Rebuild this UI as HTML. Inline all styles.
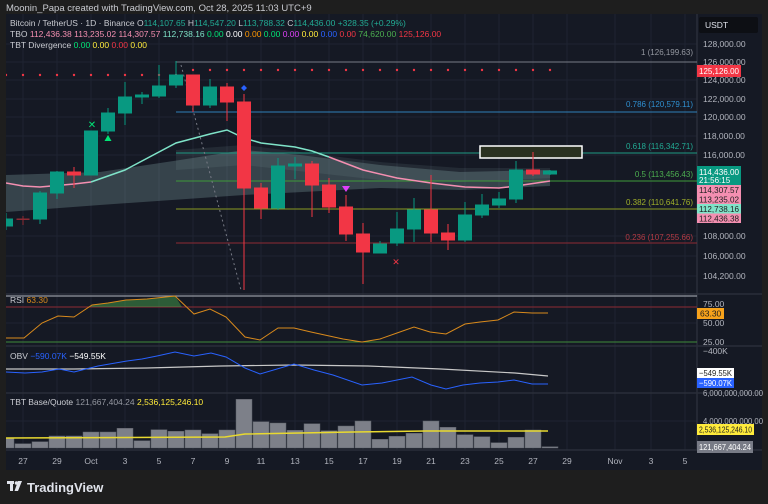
<!DOCTYPE html>
<html><head><meta charset="utf-8"><style>
html,body{margin:0;padding:0;background:#1e1e1e;width:768px;height:504px;overflow:hidden}
svg{display:block}
text{font-family:"Liberation Sans",sans-serif}
</style></head><body>
<svg width="768" height="504" viewBox="0 0 768 504" xmlns="http://www.w3.org/2000/svg">
<defs><clipPath id="pc"><rect x="6" y="14" width="691" height="436"/></clipPath></defs>
<rect width="768" height="504" fill="#1e1e1e"/>
<text x="6" y="11" font-size="9.5" fill="#c9cbd1">Moonin_Papa created with TradingView.com, Oct 28, 2025 11:03 UTC+9</text>
<rect x="6" y="14" width="756" height="456" fill="#151924"/>
<g stroke="#1f2432" stroke-width="1">
<line x1="23" y1="14" x2="23" y2="450"/><line x1="57" y1="14" x2="57" y2="450"/><line x1="91" y1="14" x2="91" y2="450"/><line x1="125" y1="14" x2="125" y2="450"/><line x1="159" y1="14" x2="159" y2="450"/><line x1="193" y1="14" x2="193" y2="450"/><line x1="227" y1="14" x2="227" y2="450"/><line x1="261" y1="14" x2="261" y2="450"/><line x1="295" y1="14" x2="295" y2="450"/><line x1="329" y1="14" x2="329" y2="450"/><line x1="363" y1="14" x2="363" y2="450"/><line x1="397" y1="14" x2="397" y2="450"/><line x1="431" y1="14" x2="431" y2="450"/><line x1="465" y1="14" x2="465" y2="450"/><line x1="499" y1="14" x2="499" y2="450"/><line x1="533" y1="14" x2="533" y2="450"/><line x1="567" y1="14" x2="567" y2="450"/><line x1="615" y1="14" x2="615" y2="450"/><line x1="651" y1="14" x2="651" y2="450"/><line x1="685" y1="14" x2="685" y2="450"/>
<line x1="6" y1="44" x2="697" y2="44"/><line x1="6" y1="62" x2="697" y2="62"/><line x1="6" y1="80" x2="697" y2="80"/><line x1="6" y1="99" x2="697" y2="99"/><line x1="6" y1="117" x2="697" y2="117"/><line x1="6" y1="136" x2="697" y2="136"/><line x1="6" y1="155" x2="697" y2="155"/><line x1="6" y1="236" x2="697" y2="236"/><line x1="6" y1="256" x2="697" y2="256"/><line x1="6" y1="276" x2="697" y2="276"/>
<line x1="6" y1="323" x2="697" y2="323"/><line x1="6" y1="421" x2="697" y2="421"/>
</g>
<g stroke="#2a2e39" stroke-width="1.5">
<line x1="6" y1="294" x2="762" y2="294"/><line x1="6" y1="346" x2="762" y2="346"/><line x1="6" y1="393" x2="762" y2="393"/><line x1="6" y1="450" x2="762" y2="450"/>
<line x1="697" y1="14" x2="697" y2="450"/>
</g>
<g clip-path="url(#pc)">
<polygon points="6,175 100,172 180,160 244,150 300,155 380,165 460,172 550,170 550,186 460,190 380,188 244,195 100,205 6,212" fill="rgba(140,175,175,0.28)"/>
<polygon points="176,150 244,145 300,152 380,162 460,168 550,168 550,178 460,182 380,180 244,165 176,170" fill="rgba(140,175,175,0.12)"/>
<line x1="176" y1="62" x2="697" y2="62" stroke="#787b86" stroke-width="1"/>
<line x1="176" y1="61" x2="176" y2="75" stroke="#787b86" stroke-width="1"/>
<line x1="176" y1="112" x2="697" y2="112" stroke="#2f7fb8" stroke-width="1"/>
<line x1="176" y1="153" x2="697" y2="153" stroke="#1f9a84" stroke-width="1"/>
<line x1="176" y1="181" x2="697" y2="181" stroke="#3f9a3a" stroke-width="1"/>
<line x1="176" y1="209" x2="697" y2="209" stroke="#8a9a22" stroke-width="1"/>
<line x1="176" y1="243" x2="697" y2="243" stroke="#8e2a33" stroke-width="1"/>
<g font-size="8" text-anchor="end">
<text x="693" y="55" fill="#9598a1">1 (126,199.63)</text>
<text x="693" y="107" fill="#2f8fd0">0.786 (120,579.11)</text>
<text x="693" y="149" fill="#22ab94">0.618 (116,342.71)</text>
<text x="693" y="177" fill="#4caf50">0.5 (113,456.43)</text>
<text x="693" y="205" fill="#a0b02a">0.382 (110,641.76)</text>
<text x="693" y="240" fill="#b33a44">0.236 (107,255.66)</text>
</g>
<rect x="480" y="146" width="102" height="12" fill="#2a3120" stroke="#ffffff" stroke-width="1.5"/>
<g fill="#f23645">
<circle cx="6" cy="75" r="1.2"/><circle cx="23" cy="75" r="1.2"/><circle cx="40" cy="75" r="1.2"/><circle cx="57" cy="75" r="1.2"/><circle cx="74" cy="75" r="1.2"/><circle cx="91" cy="75" r="1.2"/><circle cx="108" cy="75" r="1.2"/><circle cx="125" cy="75" r="1.2"/><circle cx="142" cy="75" r="1.2"/><circle cx="159" cy="75" r="1.2"/><circle cx="176" cy="75" r="1.2"/><circle cx="193" cy="70" r="1.2"/><circle cx="210" cy="70" r="1.2"/><circle cx="227" cy="70" r="1.2"/><circle cx="244" cy="70" r="1.2"/><circle cx="261" cy="70" r="1.2"/><circle cx="278" cy="70" r="1.2"/><circle cx="295" cy="70" r="1.2"/><circle cx="312" cy="70" r="1.2"/><circle cx="329" cy="70" r="1.2"/><circle cx="346" cy="70" r="1.2"/><circle cx="363" cy="70" r="1.2"/><circle cx="380" cy="70" r="1.2"/><circle cx="397" cy="70" r="1.2"/><circle cx="414" cy="70" r="1.2"/><circle cx="431" cy="70" r="1.2"/><circle cx="448" cy="70" r="1.2"/><circle cx="465" cy="70" r="1.2"/><circle cx="482" cy="70" r="1.2"/><circle cx="499" cy="70" r="1.2"/><circle cx="516" cy="70" r="1.2"/><circle cx="533" cy="70" r="1.2"/><circle cx="550" cy="70" r="1.2"/>
</g>
<line x1="181" y1="65" x2="241" y2="290" stroke="#787b86" stroke-width="1" stroke-dasharray="2,3"/>
<polyline points="6,183 23,186 40,187 74,184 91,182" fill="none" stroke="#f48fb1" stroke-width="1.5"/>
<polyline points="91,182 125,170 176,143 210,134 227,130 244,138 261,143 295,147 312,151 329,157" fill="none" stroke="#7fe3c8" stroke-width="1.5"/>
<polyline points="329,157 363,170 397,178 431,183 465,187 499,188 516,186 550,181" fill="none" stroke="#f48fb1" stroke-width="1.5"/>
<g stroke-width="1">
<g stroke="#089981" fill="#089981">
<line x1="6" y1="213" x2="6" y2="230"/><rect x="-0.5" y="219" width="13" height="7"/>
<line x1="40" y1="191" x2="40" y2="224"/><rect x="33.5" y="193" width="13" height="26"/>
<line x1="57" y1="171" x2="57" y2="199"/><rect x="50.5" y="172" width="13" height="21"/>
<line x1="91" y1="131" x2="91" y2="175"/><rect x="84.5" y="131" width="13" height="44"/>
<line x1="108" y1="108" x2="108" y2="134"/><rect x="101.5" y="113" width="13" height="18"/>
<line x1="125" y1="82" x2="125" y2="125"/><rect x="118.5" y="97" width="13" height="16"/>
<line x1="142" y1="92" x2="142" y2="104"/><rect x="135.5" y="95" width="13" height="2"/>
<line x1="159" y1="65" x2="159" y2="98"/><rect x="152.5" y="86" width="13" height="10"/>
<line x1="176" y1="61" x2="176" y2="88"/><rect x="169.5" y="75" width="13" height="10"/>
<line x1="210" y1="79" x2="210" y2="108"/><rect x="203.5" y="87" width="13" height="18"/>
<line x1="278" y1="158" x2="278" y2="210"/><rect x="271.5" y="166" width="13" height="42"/>
<line x1="295" y1="157" x2="295" y2="179"/><rect x="288.5" y="164" width="13" height="2"/>
<line x1="380" y1="241" x2="380" y2="253"/><rect x="373.5" y="244" width="13" height="9"/>
<line x1="397" y1="212" x2="397" y2="246"/><rect x="390.5" y="229" width="13" height="14"/>
<line x1="414" y1="198" x2="414" y2="242"/><rect x="407.5" y="210" width="13" height="19"/>
<line x1="465" y1="202" x2="465" y2="242"/><rect x="458.5" y="215" width="13" height="25"/>
<line x1="482" y1="194" x2="482" y2="218"/><rect x="475.5" y="205" width="13" height="10"/>
<line x1="499" y1="192" x2="499" y2="208"/><rect x="492.5" y="199" width="13" height="6"/>
<line x1="516" y1="161" x2="516" y2="203"/><rect x="509.5" y="170" width="13" height="29"/>
<line x1="550" y1="170" x2="550" y2="175"/><rect x="543.5" y="171" width="13" height="3"/>
</g>
<g stroke="#f23645" fill="#f23645">
<line x1="23" y1="216" x2="23" y2="225" stroke="#8e2a33"/><rect x="16.5" y="218.5" width="13" height="1.5" fill="#8e2a33" stroke="none"/>
<line x1="74" y1="167" x2="74" y2="188"/><rect x="67.5" y="172" width="13" height="3"/>
<line x1="193" y1="75" x2="193" y2="112"/><rect x="186.5" y="75" width="13" height="30"/>
<line x1="227" y1="83" x2="227" y2="121"/><rect x="220.5" y="87" width="13" height="15"/>
<line x1="244" y1="94" x2="244" y2="290"/><rect x="237.5" y="102" width="13" height="86"/>
<line x1="261" y1="183" x2="261" y2="219"/><rect x="254.5" y="188" width="13" height="20"/>
<line x1="312" y1="161" x2="312" y2="217"/><rect x="305.5" y="164" width="13" height="21"/>
<line x1="329" y1="178" x2="329" y2="213"/><rect x="322.5" y="185" width="13" height="22"/>
<line x1="346" y1="195" x2="346" y2="241"/><rect x="339.5" y="207" width="13" height="27"/>
<line x1="363" y1="223" x2="363" y2="284"/><rect x="356.5" y="234" width="13" height="18"/>
<line x1="431" y1="175" x2="431" y2="242"/><rect x="424.5" y="210" width="13" height="23"/>
<line x1="448" y1="224" x2="448" y2="250"/><rect x="441.5" y="233" width="13" height="7"/>
<line x1="533" y1="152" x2="533" y2="176"/><rect x="526.5" y="170" width="13" height="4"/>
</g>
</g>
<text x="92" y="128" font-size="10" fill="#00e676" text-anchor="middle">✕</text>
<polygon points="108,135 104.5,141 111.5,141" fill="#00e676"/>
<polygon points="244,85 247,88 244,91 241,88" fill="#2962ff"/>
<polygon points="342,186 350,186 346,192" fill="#e040fb"/>
<text x="396" y="265" font-size="9" fill="#f23645" text-anchor="middle">✕</text>
<line x1="6" y1="296" x2="697" y2="296" stroke="#9598a1" stroke-width="1.2"/>
<line x1="6" y1="307" x2="697" y2="307" stroke="#8e2a33" stroke-width="1"/>
<line x1="6" y1="342" x2="697" y2="342" stroke="#3f8a3a" stroke-width="1"/>
<polygon points="90,307 92,305 108,303 126,300 147,299 175,296 182,307" fill="rgba(76,175,80,0.45)"/>
<polyline points="5,338 24,338 42,323 58,316 74,317 92,305 108,303 126,300 147,299 175,296 194,314 210,309 226,317 245,337 260,340 278,328 294,328 311,332 343,339 362,342 380,339 397,333 414,327 430,332 446,334 465,324 480,322 498,320 514,312 532,313 548,313" fill="none" stroke="#d98a1c" stroke-width="1"/>
<polyline points="5,369 74,369 147,368 221,366 294,365 368,366 441,369 515,373 548,376" fill="none" stroke="#c8c8c8" stroke-width="1.2"/>
<polyline points="5,372 25,373 42,372 59,369 74,372 98,366 127,361 142,359 157,356 175,352 194,356 211,353 226,357 245,368 260,374 294,364 314,370 333,375 362,385 382,383 412,377 431,385 446,389 463,385 480,383 498,382 514,380 532,384 548,384" fill="none" stroke="#2962ff" stroke-width="1"/>
<g fill="#7d8089" stroke="#5d6069" stroke-width="0.5">
<rect x="-2" y="438.3" width="16" height="9.7"/><rect x="15" y="443.7" width="16" height="4.3"/><rect x="32" y="441.7" width="16" height="6.3"/><rect x="49" y="436" width="16" height="12"/><rect x="66" y="436" width="16" height="12"/><rect x="83" y="432" width="16" height="16"/><rect x="100" y="432" width="16" height="16"/><rect x="117" y="428.3" width="16" height="19.7"/><rect x="134" y="440.7" width="16" height="7.3"/><rect x="151" y="429.7" width="16" height="18.3"/><rect x="168" y="431.3" width="16" height="16.7"/><rect x="185" y="430" width="16" height="18"/><rect x="202" y="433.7" width="16" height="14.3"/><rect x="219" y="430" width="16" height="18"/><rect x="236" y="399.3" width="16" height="48.7"/><rect x="253" y="421.7" width="16" height="26.3"/><rect x="270" y="423" width="16" height="25"/><rect x="287" y="430.3" width="16" height="17.7"/><rect x="304" y="423.7" width="16" height="24.3"/><rect x="321" y="430.7" width="16" height="17.3"/><rect x="338" y="426" width="16" height="22"/><rect x="355" y="421" width="16" height="27"/><rect x="372" y="439.3" width="16" height="8.7"/><rect x="389" y="436.3" width="16" height="11.7"/><rect x="406" y="433.3" width="16" height="14.7"/><rect x="423" y="421" width="16" height="27"/><rect x="440" y="427.3" width="16" height="20.7"/><rect x="457" y="434.7" width="16" height="13.3"/><rect x="474" y="436.7" width="16" height="11.3"/><rect x="491" y="442.7" width="16" height="5.3"/><rect x="508" y="437.3" width="16" height="10.7"/><rect x="525" y="430" width="16" height="18"/><rect x="542" y="446.7" width="16" height="1.3"/>
</g>
<polyline points="5,438 225,437 245,434 353,432 426,431 548,431" fill="none" stroke="#e8d930" stroke-width="1.5"/>
</g>
<g font-size="8.5">
<text x="10" y="26" fill="#c9cbd1">Bitcoin / TetherUS · 1D · Binance <tspan fill="#c9cbd1">O</tspan><tspan fill="#22ab94">114,107.65</tspan> H<tspan fill="#22ab94">114,547.20</tspan> L<tspan fill="#22ab94">113,788.32</tspan> C<tspan fill="#22ab94">114,436.00</tspan> <tspan fill="#22ab94">+328.35 (+0.29%)</tspan></text>
<text x="10" y="37" fill="#c9cbd1">TBO <tspan fill="#f48fb1">112,436.38</tspan> <tspan fill="#f48fb1">113,235.02</tspan> <tspan fill="#f48fb1">114,307.57</tspan> <tspan fill="#7fe3c8">112,738.16</tspan> <tspan fill="#00e676">0.00</tspan> <tspan fill="#ffffff">0.00</tspan> <tspan fill="#ff9800">0.00</tspan> <tspan fill="#00e676">0.00</tspan> <tspan fill="#e040fb">0.00</tspan> <tspan fill="#ffeb3b">0.00</tspan> <tspan fill="#2962ff">0.00</tspan> <tspan fill="#f23645">0.00</tspan> <tspan fill="#4caf50">74,620.00</tspan> <tspan fill="#f23645">125,126.00</tspan></text>
<text x="10" y="48" fill="#c9cbd1">TBT Divergence <tspan fill="#00e676">0.00</tspan> <tspan fill="#ffeb3b">0.00</tspan> <tspan fill="#f23645">0.00</tspan> <tspan fill="#ffeb3b">0.00</tspan></text>
<text x="10" y="303" fill="#c9cbd1">RSI <tspan fill="#d98a1c">63.30</tspan></text>
<text x="10" y="359" fill="#c9cbd1">OBV <tspan fill="#2962ff">−590.07K</tspan> <tspan fill="#ffffff">−549.55K</tspan></text>
<text x="10" y="405" fill="#c9cbd1">TBT Base/Quote <tspan fill="#9598a1">121,667,404.24</tspan> <tspan fill="#ffeb3b">2,536,125,246.10</tspan></text>
</g>
<rect x="699" y="17" width="59" height="16" rx="2" fill="#0d0f14"/>
<text x="705" y="28" font-size="8.5" fill="#e0e3eb">USDT</text>
<g font-size="8.5" fill="#b2b5be">
<text x="703" y="47">128,000.00</text><text x="703" y="65">126,000.00</text><text x="703" y="83">124,000.00</text><text x="703" y="102">122,000.00</text><text x="703" y="120">120,000.00</text><text x="703" y="139">118,000.00</text><text x="703" y="158">116,000.00</text><text x="703" y="239">108,000.00</text><text x="703" y="259">106,000.00</text><text x="703" y="279">104,200.00</text>
<text x="703" y="307">75.00</text><text x="703" y="326">50.00</text><text x="703" y="345">25.00</text>
<text x="703" y="354">−400K</text><text x="703" y="396" textLength="60" lengthAdjust="spacingAndGlyphs">6,000,000,000.00</text><text x="703" y="424" textLength="60" lengthAdjust="spacingAndGlyphs">4,000,000,000.00</text>
</g>
<g font-size="8.5">
<rect x="697" y="65" width="44" height="12" fill="#f23645"/><text x="699" y="74" fill="#fff" textLength="40" lengthAdjust="spacingAndGlyphs">125,126.00</text>
<rect x="697" y="166" width="44" height="19" fill="#089981"/><text x="699" y="175" fill="#fff" textLength="40" lengthAdjust="spacingAndGlyphs">114,436.00</text><text x="699" y="183" font-size="8" fill="#fff">21:56:15</text>
<rect x="697" y="185" width="44" height="9.5" fill="#f48fb1"/><text x="699" y="193" fill="#1e1e1e" textLength="40" lengthAdjust="spacingAndGlyphs">114,307.57</text>
<rect x="697" y="194.5" width="44" height="9.5" fill="#f48fb1"/><text x="699" y="202.5" fill="#1e1e1e" textLength="40" lengthAdjust="spacingAndGlyphs">113,235.02</text>
<rect x="697" y="204" width="44" height="9.5" fill="#7fe3c8"/><text x="699" y="212" fill="#1e1e1e" textLength="40" lengthAdjust="spacingAndGlyphs">112,738.16</text>
<rect x="697" y="213.5" width="44" height="9.5" fill="#f48fb1"/><text x="699" y="221.5" fill="#1e1e1e" textLength="40" lengthAdjust="spacingAndGlyphs">112,436.38</text>
<rect x="697" y="308" width="27" height="11" fill="#f7a21b"/><text x="700" y="316.5" fill="#1e1e1e">63.30</text>
<rect x="697" y="368" width="37" height="10" fill="#ffffff"/><text x="699" y="376" fill="#1e1e1e" textLength="33" lengthAdjust="spacingAndGlyphs">−549.55K</text>
<rect x="697" y="378" width="37" height="10" fill="#2962ff"/><text x="699" y="386" fill="#fff" textLength="33" lengthAdjust="spacingAndGlyphs">−590.07K</text>
<rect x="697" y="424" width="57" height="11" fill="#ffeb3b"/><text x="699" y="432.5" font-size="8" fill="#1e1e1e" textLength="53" lengthAdjust="spacingAndGlyphs">2,536,125,246.10</text>
<rect x="697" y="441" width="56" height="12" fill="#787b86"/><text x="699" y="450" font-size="8" fill="#fff" textLength="52" lengthAdjust="spacingAndGlyphs">121,667,404.24</text>
</g>
<g font-size="8.5" fill="#b2b5be" text-anchor="middle">
<text x="23" y="464">27</text><text x="57" y="464">29</text><text x="91" y="464">Oct</text><text x="125" y="464">3</text><text x="159" y="464">5</text><text x="193" y="464">7</text><text x="227" y="464">9</text><text x="261" y="464">11</text><text x="295" y="464">13</text><text x="329" y="464">15</text><text x="363" y="464">17</text><text x="397" y="464">19</text><text x="431" y="464">21</text><text x="465" y="464">23</text><text x="499" y="464">25</text><text x="533" y="464">27</text><text x="567" y="464">29</text><text x="615" y="464">Nov</text><text x="651" y="464">3</text><text x="685" y="464">5</text>
</g>
<g fill="#e0e3eb">
<rect x="7" y="481" width="7" height="3"/><rect x="10" y="481" width="3" height="10"/>
<circle cx="16.5" cy="483" r="1.8"/><polygon points="18,481 22,481 18,491 14.5,491"/>
</g>
<text x="27" y="492" font-size="13" fill="#e0e3eb" font-weight="bold">TradingView</text>
</svg>
</body></html>
